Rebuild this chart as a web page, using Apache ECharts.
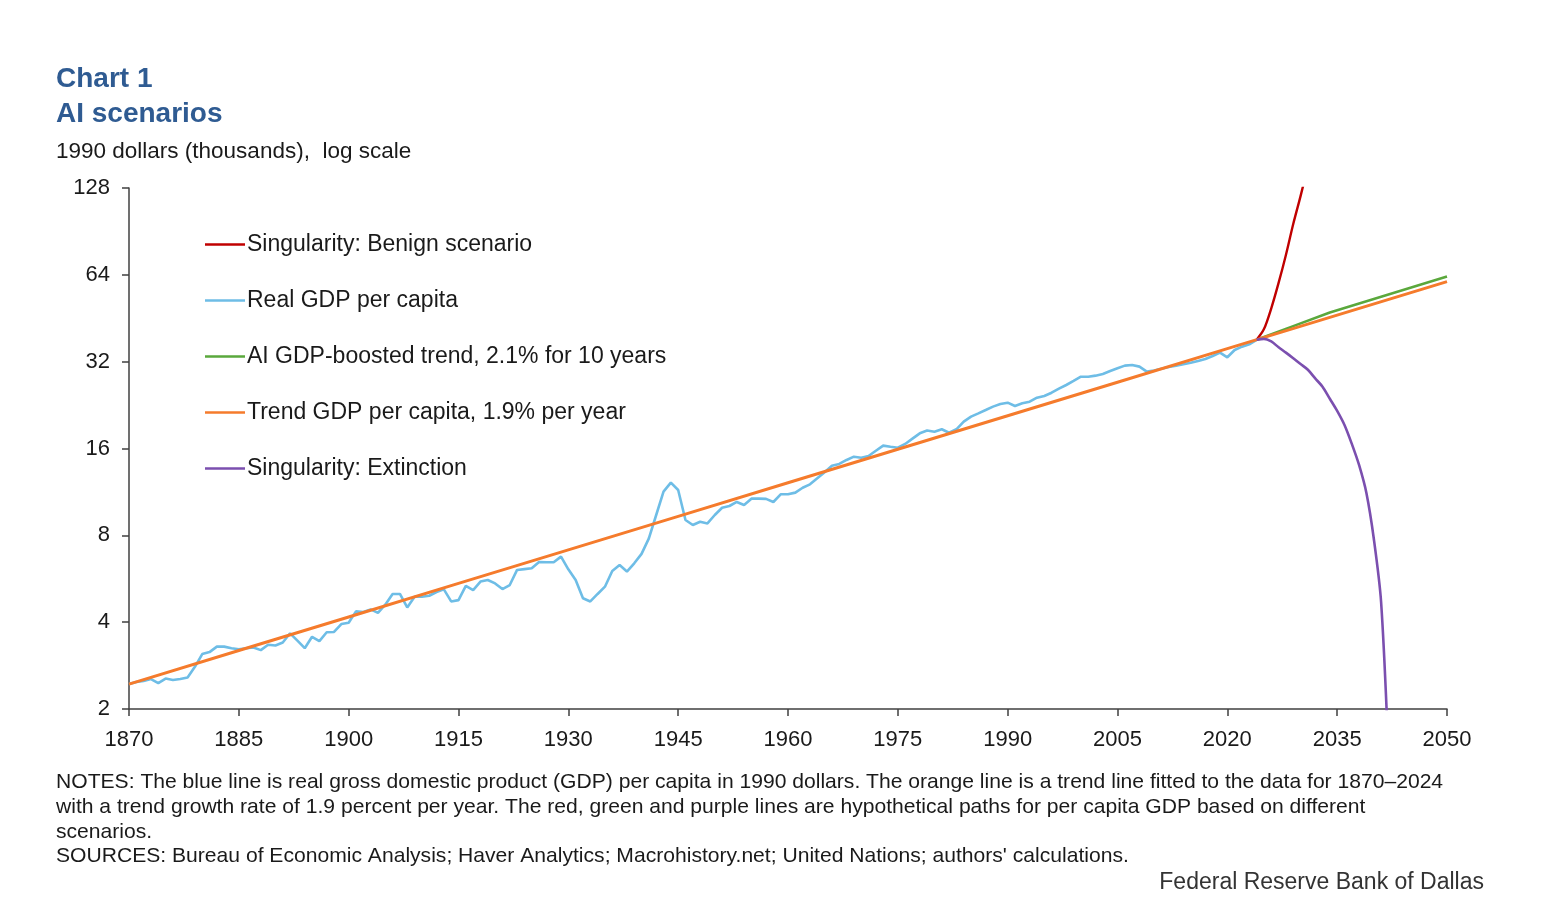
<!DOCTYPE html>
<html>
<head>
<meta charset="utf-8">
<script src="https://cdn.jsdelivr.net/npm/echarts@6/dist/echarts.min.js"></script>
<style>
html,body{margin:0;padding:0;background:#fff;}
#chart{width:1548px;height:920px;}
</style>
</head>
<body>
<div id="chart"></div>
<script>
// ---------- Data ----------
const startYear = 1870;
const xTickYears = [1870, 1885, 1900, 1915, 1930, 1945, 1960, 1975, 1990, 2005, 2020, 2035, 2050];
const yTicks = [2, 4, 8, 16, 32, 64, 128];

// Real GDP per capita (1990 dollars, thousands), yearly 1870-2024
const gdpFirstYear = 1870;
const gdpValues = [
  2.44, 2.48, 2.50, 2.54, 2.46, 2.55, 2.52, 2.54, 2.57, 2.80,
  3.10, 3.15, 3.29, 3.29, 3.25, 3.22, 3.25, 3.27, 3.20, 3.34,
  3.32, 3.40, 3.66, 3.45, 3.25, 3.56, 3.44, 3.69, 3.70, 3.94,
  3.98, 4.36, 4.34, 4.43, 4.31, 4.60, 5.01, 5.01, 4.50, 4.90,
  4.90, 4.94, 5.09, 5.20, 4.72, 4.77, 5.34, 5.17, 5.53, 5.60,
  5.45, 5.21, 5.38, 6.07, 6.11, 6.15, 6.47, 6.45, 6.45, 6.75,
  6.10, 5.60, 4.84, 4.72, 5.01, 5.31, 6.02, 6.31, 5.99, 6.40,
  6.90, 7.81, 9.41, 11.34, 12.18, 11.49, 9.04, 8.69, 8.92, 8.80,
  9.41, 9.97, 10.11, 10.44, 10.19, 10.72, 10.72, 10.70, 10.44, 11.10,
  11.10, 11.25, 11.70, 12.02, 12.61, 13.23, 13.95, 14.14, 14.60, 14.99,
  14.87, 15.07, 15.72, 16.37, 16.23, 16.10, 16.59, 17.31, 18.06, 18.46,
  18.30, 18.65, 18.15, 18.65, 19.82, 20.63, 21.18, 21.75, 22.35, 22.83,
  23.07, 22.47, 22.95, 23.25, 24.00, 24.33, 24.98, 25.79, 26.56, 27.43,
  28.38, 28.38, 28.62, 29.00, 29.70, 30.36, 31.00, 31.17, 30.76, 29.55,
  29.80, 30.26, 30.67, 31.00, 31.34, 31.74, 32.18, 32.70, 33.48, 34.39,
  33.14, 35.12, 36.07, 36.76, 38.05
];

// Trend GDP per capita, 1.9% per year
const trendYears  = [1870, 1885, 1900, 1915, 1930, 1945, 1960, 1975, 1990, 2005, 2020, 2035, 2050];
const trendValues = [2.44, 3.19, 4.17, 5.45, 7.12, 9.31, 12.17, 15.90, 20.78, 27.16, 35.50, 46.40, 60.64];

// AI GDP-boosted trend
const boostYears  = [2024, 2029, 2034, 2040, 2045, 2050];
const boostValues = [38.1, 42.5, 47.4, 52.8, 57.7, 63.1];

// Singularity: Benign scenario
const benignYears  = [2024, 2025, 2026, 2027, 2028, 2029, 2030, 2031];
const benignValues = [38.1, 41.5, 49, 60, 75, 96, 120, 152];

// Singularity: Extinction
const extinctYears  = [2024, 2025, 2026, 2027, 2028, 2029, 2030, 2031, 2032, 2033, 2034, 2035, 2036, 2037, 2038, 2039, 2040, 2041, 2042];
const extinctValues = [38.1, 38.4, 37.6, 35.9, 34.4, 32.9, 31.4, 30.0, 28.0, 26.2, 23.8, 21.6, 19.3, 16.6, 14.0, 11.2, 7.8, 4.7, 1.4];

const seriesNames = {
  benign: 'Singularity: Benign scenario',
  gdp: 'Real GDP per capita',
  boost: 'AI GDP-boosted trend, 2.1% for 10 years',
  trend: 'Trend GDP per capita, 1.9% per year',
  extinct: 'Singularity: Extinction'
};

// ---------- Build ----------
const pair = (ys, vs) => ys.map((y, i) => [y - startYear, vs[i]]);
const gdpData = gdpValues.map((v, i) => [gdpFirstYear + i - startYear, v]);

const FONT = "'Liberation Sans', Arial, sans-serif";
const chart = echarts.init(document.getElementById('chart'), null, {renderer: 'canvas'});

function lineSeries(name, data, color, width, z, smooth) {
  return {
    name, type: 'line', data, symbol: 'none', showSymbol: false,
    smooth: smooth || false, clip: true, z,
    lineStyle: {color, width},
    itemStyle: {color},
    emphasis: {disabled: true}
  };
}

const option = {
  animation: false,
  backgroundColor: '#ffffff',
  textStyle: {fontFamily: FONT},
  grid: {left: 129, right: 101, top: 188, bottom: 211, containLabel: false},
  graphic: [
    {type: 'text', left: 56, top: 65, style: {text: 'Chart 1', font: "bold 28px " + FONT, fill: '#2F5B92'}},
    {type: 'text', left: 56, top: 100, style: {text: 'AI scenarios', font: "bold 28px " + FONT, fill: '#2F5B92'}},
    {type: 'text', left: 56, top: 140, style: {text: '1990 dollars (thousands),  log scale', font: "22.5px " + FONT, fill: '#1a1a1a'}},
    {type: 'text', left: 56, top: 770, style: {
      text: 'NOTES: The blue line is real gross domestic product (GDP) per capita in 1990 dollars. The orange line is a trend line fitted to the data for 1870–2024\nwith a trend growth rate of 1.9 percent per year. The red, green and purple lines are hypothetical paths for per capita GDP based on different\nscenarios.\nSOURCES: Bureau of Economic Analysis; Haver Analytics; Macrohistory.net; United Nations; authors\' calculations.',
      font: "21.1px " + FONT, fill: '#1a1a1a', lineHeight: 24.7}},
    {type: 'text', right: 64, top: 871, style: {text: 'Federal Reserve Bank of Dallas', font: "23px " + FONT, fill: '#333333'}}
  ],
  legend: {
    orient: 'vertical', left: 200, top: 228,
    icon: 'rect',
    itemWidth: 40, itemHeight: 2.5, itemGap: 33,
    data: [seriesNames.benign, seriesNames.gdp, seriesNames.boost, seriesNames.trend, seriesNames.extinct],
    textStyle: {fontFamily: FONT, fontSize: 23, color: '#1a1a1a', lineHeight: 22, padding: [0, 0, 0, -3]},
    selectedMode: false
  },
  xAxis: {
    type: 'value', min: 0, max: 180, interval: 15,
    axisLine: {show: true, lineStyle: {color: '#404040', width: 1.5}},
    axisTick: {show: true, length: 7, lineStyle: {color: '#404040', width: 1.5}},
    axisLabel: {fontFamily: FONT, fontSize: 22, color: '#1a1a1a', margin: 20,
      formatter: v => String(v + startYear)},
    splitLine: {show: false}
  },
  yAxis: {
    type: 'log', logBase: 2, min: 2, max: 128,
    axisLine: {show: true, lineStyle: {color: '#404040', width: 1.5}},
    axisTick: {show: true, length: 7, lineStyle: {color: '#404040', width: 1.5}},
    axisLabel: {fontFamily: FONT, fontSize: 22, color: '#1a1a1a', margin: 19,
      formatter: v => String(Math.round(v))},
    splitLine: {show: false}
  },
  series: [
    lineSeries(seriesNames.gdp, gdpData, '#6EBDE6', 2.6, 2),
    lineSeries(seriesNames.boost, pair(boostYears, boostValues), '#5AA83C', 2.6, 3),
    lineSeries(seriesNames.benign, pair(benignYears, benignValues), '#C00000', 2.4, 4, 0.3),
    lineSeries(seriesNames.trend, pair(trendYears, trendValues), '#F57B2C', 3, 5),
    lineSeries(seriesNames.extinct, pair(extinctYears, extinctValues), '#7B4FAF', 2.6, 6, 0.3)
  ]
};
chart.setOption(option);
</script>
</body>
</html>
